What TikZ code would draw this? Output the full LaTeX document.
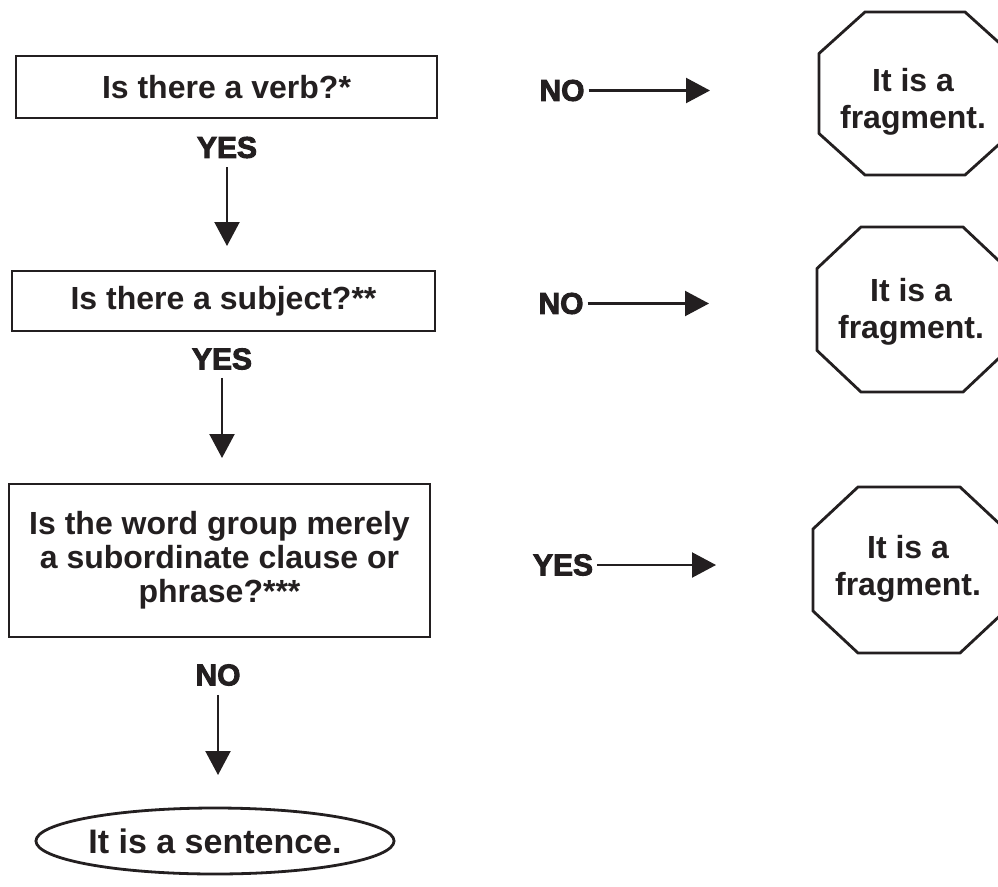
\documentclass[tikz,border=0pt]{standalone}
\usepackage{fontspec}
\setmainfont{Liberation Sans}
\newfontfamily\qfontfam{Liberation Sans Bold}
\newfontfamily\heavyfam[FakeBold=3]{Liberation Sans Bold}
\usetikzlibrary{arrows.meta,shapes.geometric}
\definecolor{ink}{HTML}{231F20}
\newcommand\qfont{\qfontfam\fontsize{32}{34}\selectfont}
\newcommand\sfontx{\qfontfam\fontsize{34}{36}\selectfont}
\newcommand\octfont{\qfontfam\fontsize{32}{37}\selectfont}
\newcommand\labfont{\heavyfam\fontsize{30}{32}\selectfont}
\begin{document}
\begin{tikzpicture}[x=1pt,y=-1pt,line join=miter,
  qbox/.style={draw=ink,line width=2.8pt,rectangle,inner sep=0pt,font=\qfont,text=ink,align=center},
  lab/.style={font=\labfont,text=ink,inner sep=0pt},
  octtext/.style={font=\octfont,text=ink,inner sep=0pt,align=center},
  octline/.style={draw=ink,line width=2.8pt},
  arr/.style={draw=ink,line width=2.2pt,-{Triangle[length=24pt,width=25pt]}},
  sentbox/.style={ellipse,draw=ink,line width=2.8pt,inner sep=0pt,font=\sfontx,text=ink}]
\useasboundingbox (0,0) rectangle (998,886);
\fill[white] (0,0) rectangle (998,886);

% question boxes
\node[qbox,minimum width=421pt,minimum height=62pt] (q1) at (226.5,87) {Is there a verb?*};
\node[qbox,minimum width=423pt,minimum height=60pt] (q2) at (223.5,301) {Is there a subject?**};
\node[qbox,minimum width=421pt,minimum height=153pt] (q3) at (219.5,560.5)
  {Is the word group merely\\a subordinate clause or\\phrase?***};

% vertical labels and arrows
\node[lab] (yes1) at (227,147.5) {YES};
\coordinate (t1) at (227,246);
\draw[arr,shorten <=9pt] (yes1) -- (t1);

\node[lab] (yes2) at (222,359) {YES};
\coordinate (t2) at (222,458);
\draw[arr,shorten <=8pt] (yes2) -- (t2);

\node[lab] (no3) at (218,675) {NO};
\coordinate (t3) at (218,775);
\draw[arr,shorten <=9pt] (no3) -- (t3);

\node[sentbox,minimum width=350pt,minimum height=66pt] (sent) at (215,841) {It is a sentence.};

% horizontal labels and arrows
\node[lab] (no1) at (562,90.5) {NO};
\coordinate (h1) at (710,90.5);
\draw[arr,shorten <=4pt] (no1) -- (h1);

\node[lab] (no2) at (561,303.5) {NO};
\coordinate (h2) at (709,303.5);
\draw[arr,shorten <=4pt] (no2) -- (h2);

\node[lab] (yes3) at (563,565) {YES};
\coordinate (h3) at (716,565);
\draw[arr,shorten <=4pt] (yes3) -- (h3);

% octagons
\draw[octline,shift={(915,93.5)}] (-50,-81.5) -- (50,-81.5) -- (96,-40) -- (96,40) -- (50,81.5) -- (-50,81.5) -- (-96,40) -- (-96,-40) -- cycle;
\node[octtext] (f1) at (913,102) {It is a\\fragment.};

\draw[octline,shift={(912,309.5)}] (-51,-82.5) -- (51,-82.5) -- (95,-41) -- (95,41) -- (51,82.5) -- (-51,82.5) -- (-95,41) -- (-95,-41) -- cycle;
\node[octtext] (f2) at (911,312) {It is a\\fragment.};

\draw[octline,shift={(909,570)}] (-51,-83) -- (51,-83) -- (96,-41) -- (96,41) -- (51,83) -- (-51,83) -- (-96,41) -- (-96,-41) -- cycle;
\node[octtext] (f3) at (908,569) {It is a\\fragment.};
\end{tikzpicture}
\end{document}
